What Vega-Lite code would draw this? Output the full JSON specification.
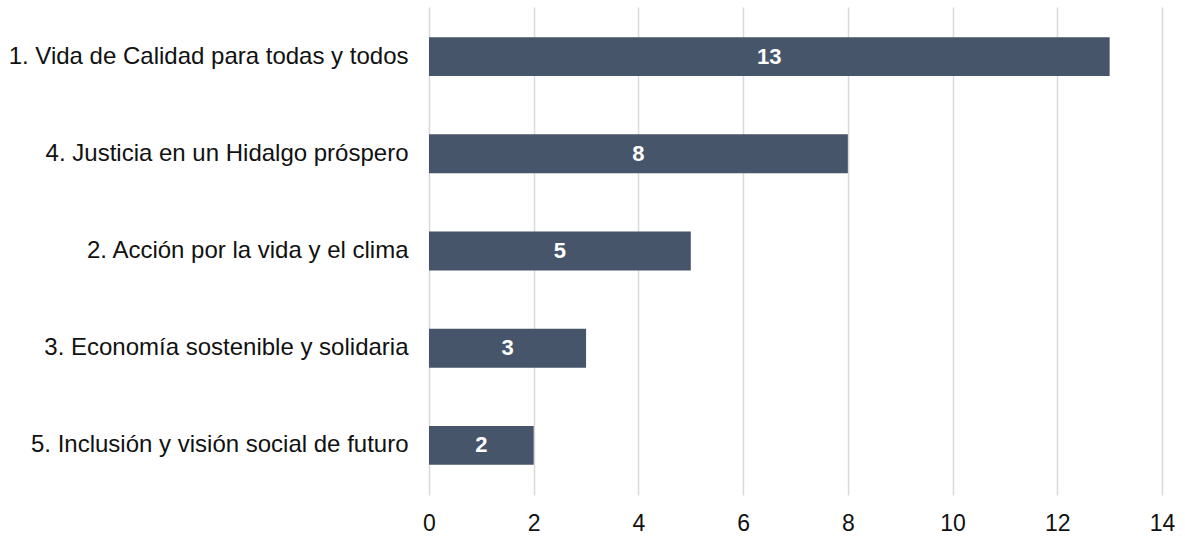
{
  "$schema": "https://vega.github.io/schema/vega-lite/v6.json",
  "autosize": "none",
  "width": 733,
  "height": 488,
  "padding": {"left": 429, "top": 7, "right": 23, "bottom": 45},
  "background": "white",
  "config": {"view": {"stroke": null}, "font": "Liberation Sans"},
  "data": {"values": [
    {"eje": "1. Vida de Calidad para todas y todos", "valor": 13},
    {"eje": "4. Justicia en un Hidalgo próspero", "valor": 8},
    {"eje": "2. Acción por la vida y el clima", "valor": 5},
    {"eje": "3. Economía sostenible y solidaria", "valor": 3},
    {"eje": "5. Inclusión y visión social de futuro", "valor": 2}
  ]},
  "transform": [{"calculate": "datum.valor / 2", "as": "mitad"}],
  "encoding": {
    "y": {"field": "eje", "type": "nominal", "sort": null,
      "scale": {"paddingInner": 0.6, "paddingOuter": 0.31},
      "axis": {"title": null, "domain": false, "ticks": false, "labelPadding": 21, "labelFontSize": 24, "labelColor": "#111111", "labelLimit": 500}},
    "x": {"field": "valor", "type": "quantitative",
      "scale": {"domain": [0, 14], "nice": false},
      "axis": {"title": null, "values": [0,2,4,6,8,10,12,14], "domain": false, "ticks": false, "labelFlush": false, "labelPadding": 17, "labelFontSize": 23, "labelColor": "#111111", "gridColor": "#d9d9d9", "gridWidth": 1.5}}
  },
  "layer": [
    {"mark": {"type": "bar", "color": "#465569"}},
    {"mark": {"type": "text", "color": "white", "fontWeight": "bold", "fontSize": 22, "baseline": "middle", "align": "center"},
     "encoding": {"x": {"field": "mitad", "type": "quantitative"}, "text": {"field": "valor", "type": "quantitative"}}}
  ]
}
